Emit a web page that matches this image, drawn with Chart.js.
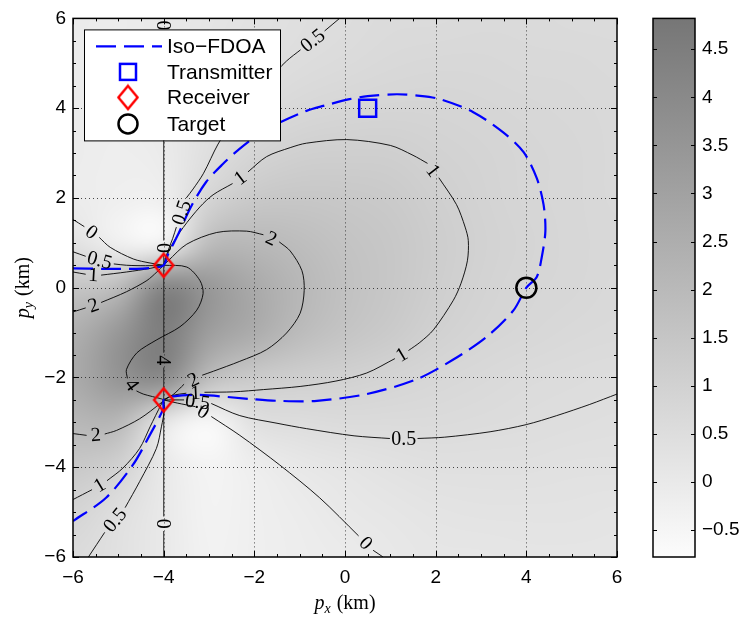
<!DOCTYPE html>
<html>
<head>
<meta charset="utf-8">
<title>Iso-FDOA</title>
<script src="https://cdn.jsdelivr.net/npm/chart.js@4.4.0/dist/chart.umd.min.js"></script>
<style>
  html, body { margin: 0; padding: 0; background: #fff; overflow: hidden; }
  #wrap { position: relative; width: 748px; height: 622px; }
  #main { position: absolute; left: 0; top: 0; }
  #cbar { position: absolute; left: 640px; top: 0; }
</style>
</head>
<body>
<div id="wrap">
  <canvas id="main" width="640" height="622"></canvas>
  <canvas id="cbar" width="108" height="622"></canvas>
</div>
<script>
// ---- data (km) ----
const xTicks = [-6, -4, -2, 0, 2, 4, 6];
const yTicks = [-6, -4, -2, 0, 2, 4, 6];
const cbTicks = [-0.5, 0, 0.5, 1, 1.5, 2, 2.5, 3, 3.5, 4, 4.5];
const cbRange = [-0.78, 4.82];

const transmitter = [[0.5, 4]];
const receivers = [[-4, 0.5], [-4, -2.5]];
const target = [[4, 0]];

// sampled surface, 1 km spacing
const gridX = [-6, -5, -4, -3, -2, -1, 0, 1, 2, 3, 4, 5, 6];
const gridY = [6, 5, 4, 3, 2, 1, 0, -1, -2, -3, -4, -5, -6];
const field = [
  [-0.05, -0.10,  0.00,  0.20, 0.30, 0.42, 0.52, 0.58, 0.62, 0.63, 0.63, 0.62, 0.60],
  [-0.10, -0.12,  0.00,  0.25, 0.38, 0.52, 0.62, 0.70, 0.72, 0.72, 0.70, 0.68, 0.65],
  [-0.12, -0.15,  0.00,  0.38, 0.55, 0.72, 0.82, 0.85, 0.83, 0.80, 0.75, 0.72, 0.68],
  [-0.12, -0.20, -0.08,  0.45, 0.85, 1.05, 1.12, 1.10, 0.98, 0.88, 0.80, 0.75, 0.70],
  [-0.10, -0.22, -0.25,  0.85, 1.35, 1.45, 1.40, 1.30, 1.10, 0.92, 0.82, 0.75, 0.70],
  [ 0.30, -0.35, -0.60,  1.90, 2.05, 1.85, 1.60, 1.45, 1.20, 0.98, 0.85, 0.77, 0.72],
  [ 1.50,  1.90,  4.50,  3.50, 2.70, 2.10, 1.70, 1.45, 1.15, 0.93, 0.82, 0.75, 0.70],
  [ 2.40,  3.50,  4.60,  3.20, 2.60, 1.95, 1.55, 1.30, 1.02, 0.85, 0.75, 0.68, 0.63],
  [ 2.60,  3.60,  4.20,  1.90, 1.25, 1.10, 1.00, 0.88, 0.76, 0.68, 0.62, 0.56, 0.52],
  [ 2.10,  2.15,  0.00, -0.75, 0.40, 0.52, 0.58, 0.60, 0.60, 0.57, 0.53, 0.47, 0.42],
  [ 1.40,  1.00,  0.00, -0.45, -0.20, 0.05, 0.20, 0.32, 0.38, 0.38, 0.37, 0.35, 0.33],
  [ 0.90,  0.45,  0.00, -0.40, -0.25, -0.10, 0.05, 0.15, 0.22, 0.25, 0.26, 0.25, 0.24],
  [ 0.60,  0.35,  0.00, -0.35, -0.25, -0.15, -0.05, 0.05, 0.12, 0.16, 0.18, 0.18, 0.18]
];

// contour lines; null marks the gap where the level label sits
const c0Left = [[-6, 1.52], [-5.75, 1.36], null, [-5.42, 1.12], [-5.18, 0.9], [-4.67, 0.64], [-4.3, 0.55], [-4, 0.5]];
const c05Left = [[-6, 0.8], [-5.72, 0.7], null, [-5.1, 0.53], [-4.82, 0.5], [-4.4, 0.49], [-4, 0.5]];
const c1Left = [[-6, 0.35], [-5.72, 0.3], null, [-5.38, 0.28], [-4.82, 0.35], [-4.3, 0.43], [-4, 0.5]];
const c2Left = [[-6, -0.54], [-5.72, -0.45], null, [-5.38, -0.33], [-4.82, -0.09], [-4.37, 0.16], [-4.15, 0.35], [-4, 0.5]];
const c05Upper = [[-4, 0.5], [-3.93, 0.75], [-3.8, 1.1], [-3.72, 1.35], null, [-3.5, 2.0], [-3.35, 2.2], [-3.12, 2.55],
  [-2.8, 3.2], [-2.5, 3.65], [-2.1, 4.15], [-1.7, 4.62], [-1.29, 5.05], [-0.98, 5.3], null, [-0.45, 5.72], [-0.12, 6]];
const c1Loop = [[-4, 0.5], [-3.85, 0.9], [-3.57, 1.34], [-3.2, 1.8], [-2.91, 2.07], [-2.48, 2.32], null, [-2.14, 2.58],
  [-1.73, 2.92], [-1.21, 3.12], [-0.85, 3.22], [0.04, 3.3], [1.0, 3.17], [1.5, 2.95], [1.82, 2.77], null, [2.07, 2.45],
  [2.46, 1.85], [2.65, 1.35], [2.72, 1.05], [2.7, 0.6], [2.56, 0.1], [2.39, -0.28], [1.95, -0.94], [1.65, -1.22],
  [1.4, -1.4], null, [1.1, -1.58], [0.48, -1.9], [-0.2, -2.08], [-0.99, -2.2], [-1.8, -2.27], [-2.46, -2.32],
  [-3.1, -2.33], null, [-3.5, -2.35], [-3.8, -2.4], [-4, -2.5]];
const c2Loop = [[-4, 0.5], [-3.9, 0.6], [-3.49, 0.97], [-2.83, 1.23], [-2.17, 1.26], [-1.8, 1.18], null, [-1.45, 1.02],
  [-1.21, 0.82], [-0.95, 0.38], [-0.9, -0.06], [-0.99, -0.57], [-1.29, -1.01], [-1.73, -1.38], [-2.32, -1.64],
  [-2.9, -1.86], [-3.15, -1.95], null, [-3.55, -2.15], [-3.79, -2.38], [-4, -2.5]];
const c4Curve = [[-4, 0.5], [-3.49, 0.46], [-3.2, 0.16], [-3.13, -0.13], [-3.27, -0.5], [-3.64, -0.87], [-4.15, -1.16],
  [-4.59, -1.45], [-4.82, -1.82], [-4.8, -2.02], null, [-4.6, -2.3], [-4.45, -2.37], [-4.04, -2.48], [-4, -2.5]];
const c2Lower = [[-4, -2.5], [-4.05, -2.56], [-4.53, -2.92], [-5.04, -3.18], [-5.3, -3.26], null, [-5.7, -3.29], [-6, -3.25]];
const c1Lower = [[-4, -2.5], [-4.05, -2.59], [-4.3, -3.1], [-4.53, -3.58], [-4.9, -4.02], [-5.25, -4.3], null, [-5.58, -4.5], [-6, -4.72]];
const c05Lower = [[-4, -2.5], [-3.98, -2.7], [-4.05, -3.1], [-4.16, -3.58], [-4.53, -4.32], [-4.85, -4.9], null, [-5.3, -5.45], [-5.66, -6]];
const c05Right = [[-4, -2.5], [-3.55, -2.5], null, [-2.95, -2.58], [-2.32, -2.85], [-1.5, -3.02], [-0.85, -3.14], [0.2, -3.3],
  [0.99, -3.36], null, [1.6, -3.36], [2.2, -3.33], [3.2, -3.21], [4.0, -3.05], [4.67, -2.85], [5.4, -2.6], [6, -2.37]];
const c0Right = [[-4, -2.5], [-3.7, -2.57], [-3.3, -2.65], null, [-2.95, -2.87], [-2.32, -3.29], [-1.44, -3.95],
  [-0.56, -4.68], [0.3, -5.53], null, [0.62, -5.85], [0.84, -6]];
const cDivide = [[-4, 6], null, [-4, 5.68], [-4, 1.05], null, [-4, 0.72], [-4, -1.45], null, [-4, -1.78], [-4, -5.1], null, [-4, -5.42], [-4, -6]];
const divideLabels = ['0', '0', '4', '0'];

// iso-FDOA curve through the target
const isoFdoa = [[-6, 0.43], [-5.3, 0.42], [-4.6, 0.42], [-4.2, 0.45], [-4, 0.5], [-3.9, 0.75], [-3.68, 1.19], [-3.4, 1.8],
  [-3.06, 2.36], [-2.7, 2.75], [-2.32, 3.1], [-1.9, 3.42], [-1.44, 3.68], [-0.85, 3.94], [-0.48, 4.05], [0.1, 4.2],
  [0.5, 4.27], [1.14, 4.31], [1.6, 4.28], [2.1, 4.2], [2.83, 3.91], [3.49, 3.46], [3.94, 3.02], [4.23, 2.44],
  [4.38, 1.85], [4.42, 1.26], [4.34, 0.68], [4.23, 0.24], [4.0, 0.0], [3.72, -0.5], [3.13, -1.09], [2.39, -1.6],
  [1.58, -2.04], [0.48, -2.37], [-0.62, -2.52], [-1.5, -2.52], [-2.09, -2.48], [-3.2, -2.39], [-3.79, -2.42],
  [-4, -2.5], [-4.01, -2.7], [-4.31, -3.29], [-4.68, -3.95], [-5.27, -4.68], [-6, -5.2]];

const contourSet = [
  { pts: c0Left, level: '0' }, { pts: c05Left, level: '0.5' }, { pts: c1Left, level: '1' }, { pts: c2Left, level: '2' },
  { pts: c05Upper, level: '0.5' }, { pts: c1Loop, level: '1' }, { pts: c2Loop, level: '2' }, { pts: c4Curve, level: '4' },
  { pts: c2Lower, level: '2' }, { pts: c1Lower, level: '1' }, { pts: c05Lower, level: '0.5' },
  { pts: c05Right, level: '0.5' }, { pts: c0Right, level: '0' }
];

// ---- styling helpers ----
const SANS = '"Liberation Sans", Arial, Helvetica, sans-serif';
const SERIF = '"Liberation Serif", "Times New Roman", serif';
const LIGHT = 252, DARK = 118;

function grayOf(v) {
  let t = (v - cbRange[0]) / (cbRange[1] - cbRange[0]);
  t = Math.max(0, Math.min(1, t));
  return Math.round(LIGHT + (DARK - LIGHT) * t);
}
function grayCss(v) { const g = grayOf(v); return `rgb(${g},${g},${g})`; }
function fmt(v) { return v < 0 ? '\u2212' + Math.abs(v) : String(v); }
function toXY(pts) { return pts.map(p => p ? { x: p[0], y: p[1] } : { x: NaN, y: NaN }); }

function diamondImage(w, h, color, lw) {
  const c = document.createElement('canvas');
  c.width = w; c.height = h;
  const g = c.getContext('2d');
  g.strokeStyle = color; g.lineWidth = lw; g.lineJoin = 'miter';
  g.beginPath();
  g.moveTo(w / 2, lw); g.lineTo(w - lw, h / 2); g.lineTo(w / 2, h - lw); g.lineTo(lw, h / 2);
  g.closePath(); g.stroke();
  return c;
}
const diamond = diamondImage(24, 28, '#ff0000', 2.4);

// ---- plugins ----
const heatmap = {
  id: 'heatmap',
  beforeDraw(chart) {
    const { ctx, chartArea: a, scales: { x, y } } = chart;
    const off = document.createElement('canvas');
    off.width = gridX.length; off.height = gridY.length;
    const octx = off.getContext('2d');
    const img = octx.createImageData(off.width, off.height);
    field.forEach((row, j) => row.forEach((v, i) => {
      const k = (j * off.width + i) * 4, g = grayOf(v);
      img.data[k] = g; img.data[k + 1] = g; img.data[k + 2] = g; img.data[k + 3] = 255;
    }));
    octx.putImageData(img, 0, 0);
    const hx = (gridX[1] - gridX[0]) / 2, hy = (gridY[0] - gridY[1]) / 2;
    const x0 = x.getPixelForValue(gridX[0] - hx), x1 = x.getPixelForValue(gridX[gridX.length - 1] + hx);
    const y0 = y.getPixelForValue(gridY[0] + hy), y1 = y.getPixelForValue(gridY[gridY.length - 1] - hy);
    ctx.save();
    ctx.beginPath(); ctx.rect(a.left, a.top, a.width, a.height); ctx.clip();
    ctx.imageSmoothingEnabled = true;
    ctx.imageSmoothingQuality = 'high';
    ctx.drawImage(off, x0, y0, x1 - x0, y1 - y0);
    ctx.restore();
  }
};

const axesDecor = {
  id: 'axesDecor',
  beforeDatasetsDraw(chart) {
    const { ctx, chartArea: a, scales: { x, y } } = chart;
    ctx.save();
    ctx.strokeStyle = 'rgba(30,30,30,0.8)';
    ctx.lineWidth = 1;
    ctx.setLineDash([1, 3]);
    xTicks.slice(1, -1).forEach(v => {
      const px = Math.round(x.getPixelForValue(v)) + 0.5;
      ctx.beginPath(); ctx.moveTo(px, a.top); ctx.lineTo(px, a.bottom); ctx.stroke();
    });
    yTicks.slice(1, -1).forEach(v => {
      const py = Math.round(y.getPixelForValue(v)) + 0.5;
      ctx.beginPath(); ctx.moveTo(a.left, py); ctx.lineTo(a.right, py); ctx.stroke();
    });
    ctx.restore();
  },
  afterDatasetsDraw(chart) {
    const { ctx, chartArea: a, scales: { x, y } } = chart;
    ctx.save();
    ctx.strokeStyle = '#000';
    ctx.lineWidth = 1;
    const minor = 0.5;
    for (let v = xTicks[0]; v <= xTicks[xTicks.length - 1] + 1e-9; v += minor) {
      const len = xTicks.includes(v) ? 6 : 3;
      const px = Math.round(x.getPixelForValue(v)) + 0.5;
      ctx.beginPath();
      ctx.moveTo(px, a.bottom); ctx.lineTo(px, a.bottom - len);
      ctx.moveTo(px, a.top); ctx.lineTo(px, a.top + len);
      ctx.stroke();
    }
    for (let v = yTicks[0]; v <= yTicks[yTicks.length - 1] + 1e-9; v += minor) {
      const len = yTicks.includes(v) ? 6 : 3;
      const py = Math.round(y.getPixelForValue(v)) + 0.5;
      ctx.beginPath();
      ctx.moveTo(a.left, py); ctx.lineTo(a.left + len, py);
      ctx.moveTo(a.right, py); ctx.lineTo(a.right - len, py);
      ctx.stroke();
    }
    ctx.lineWidth = 1.5;
    ctx.strokeRect(a.left, a.top, a.right - a.left, a.bottom - a.top);
    ctx.restore();
  }
};

// inline level labels, rotated along the line across each gap
const contourLabels = {
  id: 'contourLabels',
  afterDatasetsDraw(chart) {
    const { ctx, scales: { x, y } } = chart;
    const put = (pts, texts) => {
      let n = 0;
      pts.forEach((p, i) => {
        if (p !== null) return;
        const a = pts[i - 1], b = pts[i + 1];
        const ax = x.getPixelForValue(a[0]), ay = y.getPixelForValue(a[1]);
        const bx = x.getPixelForValue(b[0]), by = y.getPixelForValue(b[1]);
        let ang = Math.atan2(by - ay, bx - ax);
        if (ang > Math.PI / 2) ang -= Math.PI;
        if (ang < -Math.PI / 2) ang += Math.PI;
        ctx.save();
        ctx.translate((ax + bx) / 2, (ay + by) / 2);
        ctx.rotate(ang);
        ctx.font = '20px ' + SERIF;
        ctx.fillStyle = '#000';
        ctx.textAlign = 'center';
        ctx.textBaseline = 'middle';
        ctx.fillText(texts[n++], 0, 1);
        ctx.restore();
      });
    };
    contourSet.forEach(c => put(c.pts, new Array(8).fill(c.level)));
    put(cDivide, divideLabels);
  }
};

function drawMathLabel(ctx, cx, cy, sub, rotate) {
  ctx.save();
  ctx.translate(cx, cy);
  if (rotate) ctx.rotate(-Math.PI / 2);
  ctx.fillStyle = '#000';
  ctx.textBaseline = 'alphabetic';
  ctx.font = 'italic 20px ' + SERIF; const wp = ctx.measureText('p').width;
  ctx.font = 'italic 14px ' + SERIF; const ws = ctx.measureText(sub).width;
  ctx.font = '20px ' + SERIF; const wk = ctx.measureText(' (km)').width;
  let xx = -(wp + ws + 1 + wk) / 2;
  ctx.font = 'italic 20px ' + SERIF; ctx.fillText('p', xx, 6); xx += wp;
  ctx.font = 'italic 14px ' + SERIF; ctx.fillText(sub, xx, 10); xx += ws + 1;
  ctx.font = '20px ' + SERIF; ctx.fillText(' (km)', xx, 6);
  ctx.restore();
}

const titlesAndLegend = {
  id: 'titlesAndLegend',
  afterDraw(chart) {
    const { ctx, chartArea: a } = chart;
    drawMathLabel(ctx, (a.left + a.right) / 2, 603, 'x', false);
    drawMathLabel(ctx, 23, (a.top + a.bottom) / 2, 'y', true);

    const L = a.left + 11, T = a.top + 11, W = 196, H = 111;
    ctx.save();
    ctx.fillStyle = '#fff';
    ctx.fillRect(L, T, W, H);
    ctx.strokeStyle = '#000'; ctx.lineWidth = 1;
    ctx.strokeRect(L + 0.5, T + 0.5, W, H);
    const sx = L + 44, tx = L + 83;
    const rows = [T + 17, T + 42.5, T + 68, T + 94.5];
    // dashed line sample
    ctx.strokeStyle = '#0000ff'; ctx.lineWidth = 2.2; ctx.setLineDash([20, 8]);
    ctx.beginPath(); ctx.moveTo(L + 12, rows[0]); ctx.lineTo(L + 78, rows[0]); ctx.stroke();
    ctx.setLineDash([]);
    // square
    ctx.lineWidth = 2.5; ctx.strokeRect(sx - 8, rows[1] - 8, 16, 16);
    // diamond
    ctx.drawImage(diamond, sx - diamond.width / 2, rows[2] - diamond.height / 2);
    // circle
    ctx.strokeStyle = '#000'; ctx.lineWidth = 2.5;
    ctx.beginPath(); ctx.arc(sx, rows[3], 9.5, 0, Math.PI * 2); ctx.stroke();
    ctx.fillStyle = '#000';
    ctx.font = '21px ' + SANS;
    ctx.textBaseline = 'middle';
    ['Iso\u2212FDOA', 'Transmitter', 'Receiver', 'Target'].forEach((t, i) => ctx.fillText(t, tx, rows[i] + 1));
    ctx.restore();
  }
};

// ---- datasets ----
const lineDatasets = contourSet.map(c => ({
  data: toXY(c.pts), showLine: true, pointRadius: 0, borderColor: '#000', borderWidth: 0.9,
  spanGaps: false, order: 3, tension: 0.3
}));
lineDatasets.push({
  data: toXY(cDivide), showLine: true, pointRadius: 0, borderColor: 'rgba(40,40,40,0.8)', borderWidth: 1.3,
  spanGaps: false, order: 3
});

const datasets = [
  { label: 'Target', data: toXY(target), pointStyle: 'circle', pointRadius: 10, borderColor: '#000',
    backgroundColor: 'transparent', borderWidth: 2.5, order: 0 },
  { label: 'Receiver', data: toXY(receivers), pointStyle: diamond, pointRadius: 10, order: 0 },
  { label: 'Transmitter', data: toXY(transmitter), pointStyle: 'rect', pointRadius: 12, borderColor: '#0000ff',
    backgroundColor: 'transparent', borderWidth: 2.5, order: 0 },
  { label: 'Iso-FDOA', data: toXY(isoFdoa), showLine: true, pointRadius: 0, borderColor: '#0000ff', borderWidth: 2.2,
    borderDash: [20, 8], tension: 0.3, order: 1 },
  ...lineDatasets
];

const tickFont = { family: SANS, size: 19 };

new Chart(document.getElementById('main'), {
  type: 'scatter',
  data: { datasets },
  options: {
    responsive: false,
    animation: false,
    events: [],
    layout: { padding: { top: 11, right: 23, bottom: 0, left: 0 } },
    plugins: { legend: { display: false }, tooltip: { enabled: false } },
    scales: {
      x: {
        type: 'linear', min: -6, max: 6,
        grid: { display: false, drawTicks: false }, border: { display: false },
        afterBuildTicks: ax => { ax.ticks = xTicks.map(v => ({ value: v })); },
        afterFit: ax => { ax.height = 65; },
        ticks: { font: tickFont, color: '#000', padding: 9, maxRotation: 0, autoSkip: false, callback: fmt }
      },
      y: {
        type: 'linear', min: -6, max: 6,
        grid: { display: false, drawTicks: false }, border: { display: false },
        afterBuildTicks: ax => { ax.ticks = yTicks.map(v => ({ value: v })); },
        afterFit: ax => { ax.width = 73; },
        ticks: { font: tickFont, color: '#000', padding: 7, autoSkip: false, callback: fmt }
      }
    }
  },
  plugins: [heatmap, axesDecor, contourLabels, titlesAndLegend]
});

// ---- colorbar ----
const colorbarFill = {
  id: 'colorbarFill',
  beforeDatasetsDraw(chart) {
    const { ctx, chartArea: a, scales: { y } } = chart;
    const g = ctx.createLinearGradient(0, y.getPixelForValue(cbRange[0]), 0, y.getPixelForValue(cbRange[1]));
    g.addColorStop(0, grayCss(cbRange[0]));
    g.addColorStop(1, grayCss(cbRange[1]));
    ctx.save();
    ctx.fillStyle = g;
    ctx.fillRect(a.left, a.top, a.right - a.left, a.bottom - a.top);
    ctx.strokeStyle = '#000'; ctx.lineWidth = 1;
    cbTicks.forEach(v => {
      const py = Math.round(y.getPixelForValue(v)) + 0.5;
      ctx.beginPath();
      ctx.moveTo(a.left, py); ctx.lineTo(a.left + 4, py);
      ctx.moveTo(a.right, py); ctx.lineTo(a.right - 4, py);
      ctx.stroke();
    });
    ctx.lineWidth = 1.5;
    ctx.strokeRect(a.left, a.top, a.right - a.left, a.bottom - a.top);
    ctx.restore();
  }
};

new Chart(document.getElementById('cbar'), {
  type: 'scatter',
  data: { datasets: [] },
  options: {
    responsive: false,
    animation: false,
    events: [],
    layout: { padding: { top: 11, right: 0, bottom: 65, left: 13 } },
    plugins: { legend: { display: false }, tooltip: { enabled: false } },
    scales: {
      x: { display: false, min: 0, max: 1 },
      y: {
        position: 'right', min: cbRange[0], max: cbRange[1],
        grid: { display: false, drawTicks: false }, border: { display: false },
        afterBuildTicks: ax => { ax.ticks = cbTicks.map(v => ({ value: v })); },
        afterFit: ax => { ax.width = 53; },
        ticks: { font: tickFont, color: '#000', padding: 7, autoSkip: false, callback: fmt }
      }
    }
  },
  plugins: [colorbarFill]
});
</script>
</body>
</html>
